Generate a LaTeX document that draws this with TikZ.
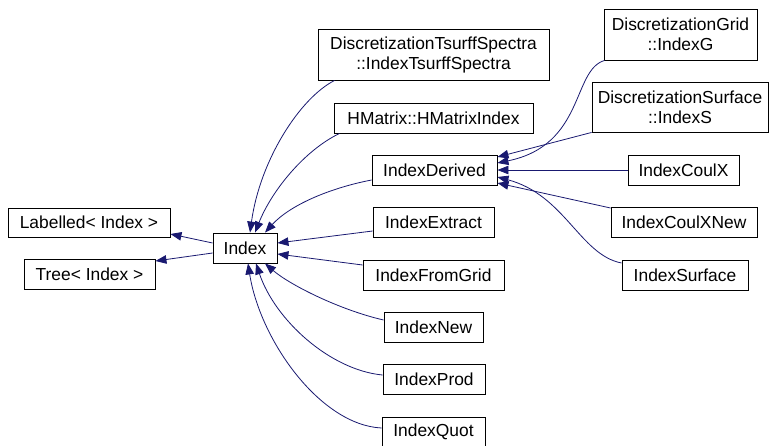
\documentclass[tikz,border=0pt]{standalone}
\usepackage{fontspec}
\setmainfont{Liberation Sans}
\usetikzlibrary{arrows.meta,calc}
\definecolor{edgeblue}{RGB}{25,25,112}
\begin{document}
\begin{tikzpicture}[x=1pt,y=-1pt,
  box/.style={draw=black,line width=0.9pt,fill=white,inner sep=0pt,align=center,
    font=\fontsize{17.4}{20}\selectfont,minimum height=30pt},
  edge/.style={draw=edgeblue,line width=0.8pt,-{Triangle[length=11pt,width=8.5pt]},fill=none}]
\useasboundingbox (0,0) rectangle (769,445);
% nodes
\node[box,minimum width=162pt,minimum height=29pt] (lab) at (89,222.5) {Labelled< Index >};
\node[box,minimum width=131pt] (tree) at (89.5,274) {Tree< Index >};
\node[box,minimum width=64pt] (idx) at (245,248) {Index};
\node[box,minimum width=231pt,minimum height=51pt] (ts) at (433.5,54.5) {DiscretizationTsurffSpectra\\::IndexTsurffSpectra};
\node[box,minimum width=199pt] (hm) at (433.5,118) {HMatrix::HMatrixIndex};
\node[box,minimum width=125pt] (der) at (434.5,170) {IndexDerived};
\node[box,minimum width=121pt] (ext) at (433.5,222) {IndexExtract};
\node[box,minimum width=141pt] (fg) at (433.5,275) {IndexFromGrid};
\node[box,minimum width=99pt] (new) at (433.5,327) {IndexNew};
\node[box,minimum width=102pt] (prod) at (434,379) {IndexProd};
\node[box,minimum width=103pt] (quot) at (433.5,432) {IndexQuot};
\node[box,minimum width=153pt,minimum height=51pt] (g) at (680.5,34.5) {DiscretizationGrid\\::IndexG};
\node[box,minimum width=176pt,minimum height=50pt] (s) at (680,107) {DiscretizationSurface\\::IndexS};
\node[box,minimum width=111pt] (cx) at (683.5,170) {IndexCoulX};
\node[box,minimum width=146pt] (cxn) at (684,222) {IndexCoulXNew};
\node[box,minimum width=126pt] (surf) at (685,275) {IndexSurface};
% edges to base classes
\draw[edge] ($(idx.west)+(0,-5)$) -- ($(lab.east)+(0,11.5)$);
\draw[edge] ($(idx.west)+(0,5)$) -- ($(tree.east)+(0,-13)$);
% edges into Index
\draw[edge] ($(ts.south west)+(17,0)$) .. controls (300,98) and (260,160) .. ($(idx.north)+(5,0)$);
\draw[edge] ($(hm.south west)+(6,0)$) .. controls (305,150) and (272,190) .. ($(idx.north)+(10,0)$);
\draw[edge] ($(der.west)+(0,10)$) .. controls (330,188) and (290,205) .. ($(idx.north)+(20,0)$);
\draw[edge] ($(ext.west)+(0,9)$) -- ($(idx.east)+(0,-5)$);
\draw[edge] ($(fg.west)+(0,-10)$) -- ($(idx.east)+(0,6)$);
\draw[edge] ($(new.west)+(0,-7)$) .. controls (340,310) and (290,285) .. ($(idx.south)+(20,0)$);
\draw[edge] ($(prod.west)+(0,-4)$) .. controls (330,370) and (275,320) .. ($(idx.south)+(11,0)$);
\draw[edge] ($(quot.west)+(0,-4)$) .. controls (320,425) and (260,340) .. ($(idx.south)+(3,0)$);
% edges into IndexDerived
\draw[edge] (s.south west) -- ($(der.east)+(0,-13)$);
\draw[edge] ($(g.south west)+(1,0)$) .. controls (572,70) and (585,145) .. ($(der.east)+(0,-7)$);
\draw[edge] (cx.west) -- (der.east);
\draw[edge] ($(cxn.west)+(0,-14)$) -- ($(der.east)+(0,13)$);
\draw[edge] ($(surf.west)+(0,-12)$) .. controls (580,255) and (565,195) .. ($(der.east)+(0,7)$);
\end{tikzpicture}
\end{document}
